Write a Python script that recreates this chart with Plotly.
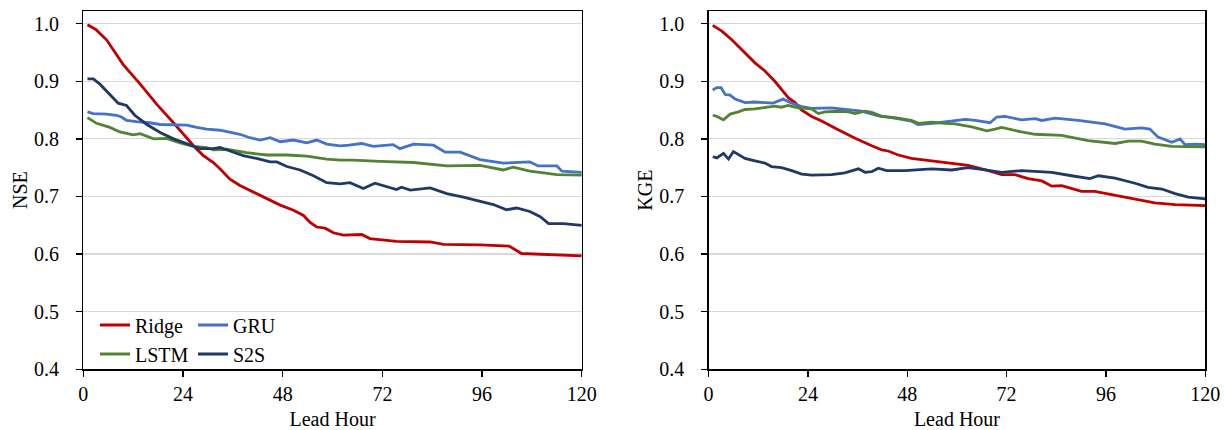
import plotly.graph_objects as go

# ---------------- data ----------------
series_names = ["Ridge", "GRU", "LSTM", "S2S"]
series_colors = ["#C00000", "#4472C4", "#548235", "#203864"]

x_ticks = [0, 24, 48, 72, 96, 120]
y_ticks = [0.4, 0.5, 0.6, 0.7, 0.8, 0.9, 1.0]

# NSE panel
ridge_nse_h = [1, 3, 5.6, 9.6, 13.7, 17.7, 21.7, 24.9, 26.9, 28.9,
               31.3, 32.9, 35.3, 37.7, 41, 44.2, 47.4, 50.6, 53, 54.6,
               56.2, 58.2, 60.2, 62.6, 67, 69, 75.4, 83.5, 86.7, 95.5,
               102.5, 105.5, 111.6, 120]
ridge_nse = [0.998, 0.99, 0.972, 0.929, 0.895, 0.86, 0.828, 0.802, 0.785, 0.771,
             0.759, 0.748, 0.73, 0.719, 0.707, 0.696, 0.685, 0.676, 0.667, 0.655,
             0.647, 0.645, 0.637, 0.633, 0.634, 0.627, 0.622, 0.621, 0.617, 0.616,
             0.614, 0.601, 0.599, 0.597]

gru_nse_h = [1, 2.4, 5.6, 8, 9.2, 10.4, 12.8, 16, 18.5, 21.7,
             24.9, 27.3, 29.7, 32.9, 35.3, 37.7, 40.1, 42.6, 45, 47.4,
             50.6, 53.8, 56.2, 58.6, 61.8, 64, 67, 69.8, 74.6, 76.2,
             79.5, 84.3, 87.1, 90.7, 95.5, 101.1, 107.5, 109.5, 114, 115.2,
             120]
gru_nse = [0.847, 0.844, 0.843, 0.841, 0.838, 0.832, 0.83, 0.828, 0.825, 0.825,
           0.824, 0.82, 0.817, 0.815, 0.812, 0.808, 0.802, 0.798, 0.802, 0.795,
           0.798, 0.793, 0.798, 0.791, 0.788, 0.789, 0.792, 0.787, 0.79, 0.783,
           0.791, 0.789, 0.777, 0.777, 0.764, 0.758, 0.76, 0.753, 0.753, 0.744,
           0.742]

lstm_nse_h = [1, 3.2, 6.4, 8.8, 12, 13.7, 16.9, 20, 23.3, 26.5,
              29.7, 31.3, 34.5, 39.3, 44.2, 49, 53.8, 58.6, 62, 65,
              71.4, 79.5, 87.5, 95.5, 101.1, 103.5, 107.5, 114, 120]
lstm_nse = [0.837, 0.827, 0.82, 0.812, 0.807, 0.809, 0.8, 0.801, 0.793, 0.787,
            0.785, 0.781, 0.782, 0.776, 0.772, 0.772, 0.77, 0.765, 0.763, 0.763,
            0.761, 0.759, 0.753, 0.754, 0.746, 0.751, 0.744, 0.738, 0.737]

s2s_nse_h = [1, 2.4, 4, 6.4, 8.4, 10.4, 12.4, 15.3, 18.5, 21.7,
             24.9, 28.1, 31.3, 32.9, 35.3, 38.5, 41.7, 45, 46.6, 49,
             52.2, 55.4, 58.6, 61.8, 64.2, 67.4, 70.2, 75.4, 76.6, 78.7,
             83.5, 87.5, 91.5, 94.7, 98.7, 101.9, 104.3, 107.5, 110, 112,
             115.6, 120]
s2s_nse = [0.904, 0.904, 0.895, 0.877, 0.862, 0.858, 0.841, 0.825, 0.811, 0.8,
           0.791, 0.783, 0.783, 0.785, 0.779, 0.771, 0.766, 0.76, 0.76, 0.752,
           0.746, 0.736, 0.724, 0.722, 0.724, 0.714, 0.723, 0.712, 0.716, 0.711,
           0.715, 0.705, 0.699, 0.693, 0.686, 0.677, 0.68, 0.674, 0.665, 0.653,
           0.653, 0.65]

# KGE panel
ridge_kge_h = [1, 3.2, 5.6, 8, 11.2, 13.6, 16, 17.6, 19.3, 20.9,
               22.5, 24.9, 27.3, 31.3, 35.4, 39.4, 41.8, 43.4, 45.8, 49,
               53.9, 58.7, 62.7, 67.6, 70.8, 74, 77.2, 80.5, 82.9, 85.3,
               90.1, 93.3, 98.2, 103, 107.8, 112.7, 120]
ridge_kge = [0.997, 0.987, 0.972, 0.955, 0.932, 0.918, 0.9, 0.886, 0.871, 0.863,
             0.85, 0.839, 0.831, 0.816, 0.801, 0.788, 0.781, 0.779, 0.772, 0.766,
             0.762, 0.757, 0.754, 0.745, 0.738, 0.738, 0.731, 0.727, 0.718, 0.719,
             0.709, 0.709, 0.702, 0.695, 0.689, 0.686, 0.684]

gru_kge_h = [1, 2, 3, 4, 5.2, 6.4, 8.8, 11.2, 13.6, 15.6,
             18, 20.1, 22.5, 24.9, 29.7, 32.9, 37, 41, 44.2, 49,
             50.6, 55.5, 58.7, 62, 64.4, 68, 69.6, 71.6, 75.6, 78.9,
             80.5, 83.7, 89.3, 95.8, 100.6, 104.6, 106.6, 108.6, 111.9, 113.9,
             115.1, 117.5, 120]
gru_kge = [0.885, 0.889, 0.889, 0.877, 0.876, 0.869, 0.863, 0.864, 0.863, 0.862,
           0.869, 0.862, 0.856, 0.853, 0.854, 0.851, 0.848, 0.84, 0.837, 0.831,
           0.825, 0.828, 0.831, 0.834, 0.832, 0.828, 0.838, 0.839, 0.833, 0.835,
           0.832, 0.836, 0.832, 0.826, 0.817, 0.819, 0.817, 0.803, 0.794, 0.8,
           0.79, 0.791, 0.79]

lstm_kge_h = [1, 2, 3.6, 5.2, 7.2, 8.8, 11.2, 13.6, 16, 17.6,
              19.2, 21.7, 24.9, 26.5, 28.1, 31.3, 33.8, 35.4, 37.8, 39.4,
              41.8, 45, 49, 50.7, 53.9, 57.1, 59.5, 63.6, 67.2, 69.2,
              70.8, 75.6, 78.9, 85.3, 91.7, 98.2, 101.4, 104.6, 107.8, 111.9,
              120]
lstm_kge = [0.841, 0.839, 0.833, 0.843, 0.847, 0.851, 0.852, 0.855, 0.857, 0.855,
            0.858, 0.854, 0.852, 0.844, 0.847, 0.848, 0.847, 0.844, 0.848, 0.846,
            0.839, 0.837, 0.832, 0.827, 0.829, 0.827, 0.826, 0.821, 0.814, 0.817,
            0.82, 0.812, 0.808, 0.806, 0.797, 0.792, 0.796, 0.796, 0.791, 0.787,
            0.786]

s2s_kge_h = [1, 2, 3.6, 4.8, 6, 7.2, 8.8, 11.2, 13.6, 15.2,
             17.6, 20.1, 22.5, 24.9, 29.7, 32.9, 36.2, 37.8, 39.4, 41,
             43, 47.4, 53.9, 58.7, 62.7, 66, 70.8, 75.6, 82.9, 87.7,
             92.1, 94.2, 98.2, 103, 106.2, 109.5, 112.7, 115.9, 120]
s2s_kge = [0.769, 0.767, 0.775, 0.765, 0.778, 0.773, 0.766, 0.762, 0.758, 0.752,
           0.75, 0.745, 0.739, 0.737, 0.738, 0.741, 0.748, 0.742, 0.743, 0.749,
           0.745, 0.745, 0.748, 0.746, 0.75, 0.747, 0.742, 0.745, 0.742, 0.736,
           0.731, 0.736, 0.732, 0.723, 0.716, 0.713, 0.705, 0.699, 0.696]

# ---------------- figure ----------------
FONT = "Liberation Serif"
FS = 20

nse_data = [(ridge_nse_h, ridge_nse), (gru_nse_h, gru_nse),
            (lstm_nse_h, lstm_nse), (s2s_nse_h, s2s_nse)]
kge_data = [(ridge_kge_h, ridge_kge), (gru_kge_h, gru_kge),
            (lstm_kge_h, lstm_kge), (s2s_kge_h, s2s_kge)]
legend_of = ["legend", "legend", "legend2", "legend2"]

fig = go.Figure()
for i, (hx, vy) in enumerate(nse_data):
    fig.add_trace(go.Scatter(x=hx, y=vy, mode="lines", name=series_names[i],
                             line=dict(color=series_colors[i], width=2.8),
                             xaxis="x", yaxis="y", legend=legend_of[i]))
for i, (hx, vy) in enumerate(kge_data):
    fig.add_trace(go.Scatter(x=hx, y=vy, mode="lines", name=series_names[i],
                             line=dict(color=series_colors[i], width=2.8),
                             xaxis="x2", yaxis="y2", showlegend=False))

W, H = 1224, 430
xdom1 = [83.3 / W, 581.8 / W]
xdom2 = [708.6 / W, 1205.3 / W]
ydom = [(H - 369.3) / H, (H - 11) / H]

xax = dict(range=[0, 120], tickmode="array", tickvals=x_ticks,
           ticktext=[str(v) for v in x_ticks], automargin=False,
           showline=True, linecolor="black", linewidth=1.3, mirror=True,
           ticks="outside", ticklen=6, tickcolor="black", tickwidth=1.3,
           showgrid=False, zeroline=False,
           tickfont=dict(family=FONT, size=FS, color="black"),
           title=dict(text="Lead Hour", font=dict(family=FONT, size=FS, color="black"),
                      standoff=8))
yax = dict(range=[0.4, 1.022], tickmode="array", tickvals=y_ticks,
           ticktext=[f"{v:.1f}" for v in y_ticks], automargin=False,
           showline=True, linecolor="black", linewidth=1.3, mirror=True,
           ticks="outside", ticklen=6, tickcolor="black", tickwidth=1.3,
           showgrid=True, gridcolor="#D9D9D9", gridwidth=1.2, zeroline=False,
           ticklabelstandoff=13,
           tickfont=dict(family=FONT, size=FS, color="black"))

fig.update_layout(
    width=W, height=H,
    margin=dict(l=0, r=0, t=0, b=0, autoexpand=False),
    paper_bgcolor="white", plot_bgcolor="white",
    font=dict(family=FONT, size=FS, color="black"),
    xaxis=dict(xax, domain=xdom1, anchor="y"),
    yaxis=dict(yax, domain=ydom, anchor="x",
               title=dict(text="NSE", font=dict(family=FONT, size=FS, color="black"),
                          standoff=1)),
    xaxis2=dict(xax, domain=xdom2, anchor="y2"),
    yaxis2=dict(yax, domain=ydom, anchor="x2",
                title=dict(text="KGE", font=dict(family=FONT, size=FS, color="black"),
                           standoff=1)),
    legend=dict(orientation="h", x=95 / W, xanchor="left", y=(H - 325) / H, yanchor="middle",
                bgcolor="rgba(0,0,0,0)", entrywidth=53, entrywidthmode="pixels",
                font=dict(family=FONT, size=FS, color="black"),
                itemwidth=30, tracegroupgap=0),
    legend2=dict(orientation="h", x=95 / W, xanchor="left", y=(H - 354) / H, yanchor="middle",
                 bgcolor="rgba(0,0,0,0)", entrywidth=53, entrywidthmode="pixels",
                 font=dict(family=FONT, size=FS, color="black"),
                 itemwidth=30, tracegroupgap=0),
    showlegend=True,
)

fig.write_html("out.html",
               config={"displayModeBar": False, "staticPlot": True},
               post_script="document.body.style.margin='0';document.body.style.overflow='hidden';")
